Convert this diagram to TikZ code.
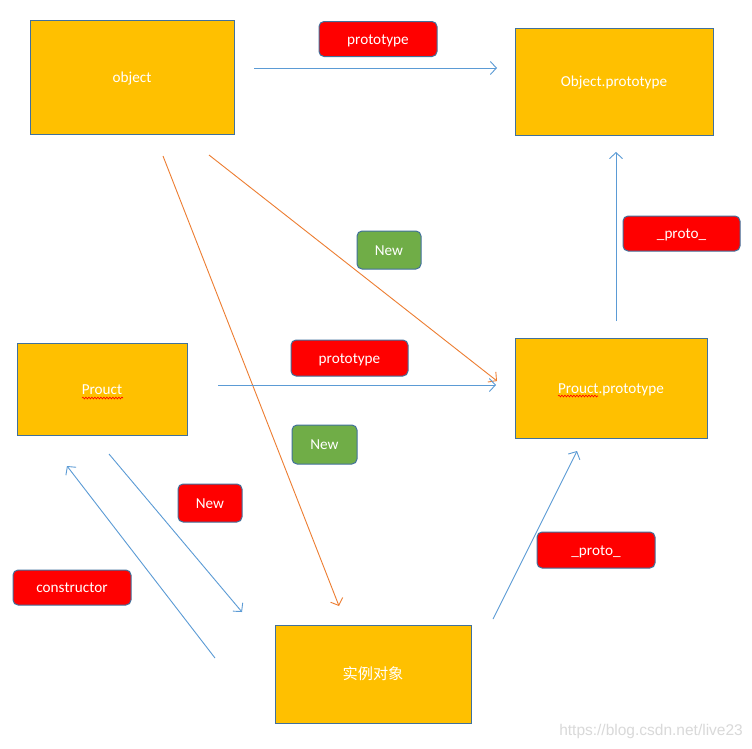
\documentclass[tikz,border=0pt]{standalone}
\usepackage{fontspec}
\setmainfont{Carlito}
\newfontfamily\cjkfont{Noto Sans CJK SC}
\newfontfamily\wmfont{Liberation Sans}
\usetikzlibrary{arrows.meta,decorations.pathmorphing}
\definecolor{boxfill}{HTML}{FFC000}
\definecolor{boxline}{HTML}{41719C}
\definecolor{lblred}{HTML}{FF0000}
\definecolor{lblgreen}{HTML}{70AD47}
\definecolor{arrblue}{HTML}{5B9BD5}
\definecolor{arrorange}{HTML}{ED7D31}
\definecolor{wmgray}{HTML}{D9D9D9}
\tikzset{
  txt/.style={text=white, font=\fontsize{15.2}{17}\selectfont, text height=11pt, text depth=0.5pt},
  box/.style={draw=boxline, line width=1pt, fill=boxfill, inner sep=0pt, txt},
  lbl/.style={draw=boxline, line width=1pt, rounded corners=5pt, inner sep=0pt, txt},
  redlbl/.style={lbl, fill=lblred},
  greenlbl/.style={lbl, fill=lblgreen},
  bluearr/.style={draw=arrblue, line width=0.9pt, -{Straight Barb[length=6pt,width=13pt]}},
  orangearr/.style={draw=arrorange, line width=0.9pt, -{Straight Barb[length=6pt,width=13pt]}},
  spell/.style={draw=red, line width=0.6pt, decorate,
    decoration={snake, amplitude=0.9pt, segment length=3pt}}
}
\begin{document}
\begin{tikzpicture}[x=1pt,y=-1pt]
\useasboundingbox (0,0) rectangle (752,748);
\fill[white] (0,0) rectangle (752,748);
% boxes
\node[box, minimum width=204pt, minimum height=114pt] (object) at (132,77) {object};
\node[box, minimum width=198pt, minimum height=107pt] (objproto) at (614,81.5) {Object.prototype};
\node[box, minimum width=170pt, minimum height=92pt] (prouct) at (102,389) {Prouct};
\node[box, minimum width=192pt, minimum height=100pt] (prproto) at (611,388) {Prouct.prototype};
\node[box, minimum width=196pt, minimum height=98pt] (inst) at (373,674) {\cjkfont 实例对象};
% labels
\node[redlbl, minimum width=118pt, minimum height=35pt] (lp1) at (378,39) {prototype};
\node[redlbl, minimum width=117pt, minimum height=35pt] (lproto1) at (681.5,233.5) {\_proto\_};
\node[greenlbl, minimum width=64pt, minimum height=38pt] (lnew1) at (389,250) {New};
\node[redlbl, minimum width=117pt, minimum height=36pt] (lp2) at (349.5,358) {prototype};
\node[greenlbl, minimum width=65pt, minimum height=39pt] (lnew2) at (324.5,444.5) {New};
\node[redlbl, minimum width=64pt, minimum height=38pt] (lnew3) at (210,503) {New};
\node[redlbl, minimum width=118pt, minimum height=35pt] (lcons) at (72,587.5) {constructor};
\node[redlbl, minimum width=118pt, minimum height=36pt] (lproto2) at (596,550) {\_proto\_};
% spell-check underlines
\draw[spell] ([xshift=-20pt,yshift=-9pt]prouct.center) -- ([xshift=21pt,yshift=-9pt]prouct.center);
\draw[spell] ([xshift=-53pt,yshift=-8pt]prproto.center) -- ([xshift=-13pt,yshift=-8pt]prproto.center);
% connector end points
\coordinate (a1s) at (254,68);   \coordinate (a1e) at (497,68);
\coordinate (o1s) at (163,156);  \coordinate (o1e) at (339,606);
\coordinate (o2s) at (209,155);  \coordinate (o2e) at (497,381);
\coordinate (a2s) at (218,385);  \coordinate (a2e) at (496,385);
\coordinate (a3s) at (616,321);  \coordinate (a3e) at (616,152);
\coordinate (a4s) at (109,454);  \coordinate (a4e) at (242,612);
\coordinate (a5s) at (215,658);  \coordinate (a5e) at (67,466);
\coordinate (a6s) at (493,619);  \coordinate (a6e) at (577,451);
% connectors
\draw[bluearr] (a1s) -- (a1e);
\draw[orangearr] (o1s) -- (o1e);
\draw[orangearr] (o2s) -- (o2e);
\draw[bluearr] (a2s) -- (a2e);
\draw[bluearr] (a3s) -- (a3e);
\draw[bluearr] (a4s) -- (a4e);
\draw[bluearr] (a5s) -- (a5e);
\draw[bluearr] (a6s) -- (a6e);
% watermark
\node[anchor=east, text=wmgray, font=\wmfont\fontsize{15.5}{17}\selectfont, inner sep=0pt] (wm) at (743,731) {https://blog.csdn.net/live23};
\end{tikzpicture}
\end{document}
